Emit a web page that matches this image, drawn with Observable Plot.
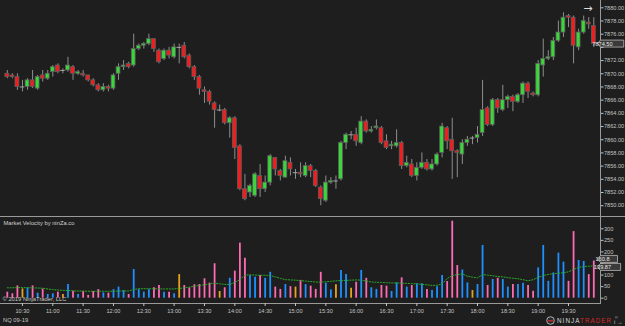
<!DOCTYPE html>
<html>
<head>
<meta charset="utf-8">
<script src="https://cdn.jsdelivr.net/npm/d3@7"></script>
<script src="https://cdn.jsdelivr.net/npm/@observablehq/plot@0.6"></script>
<style>
  html, body { margin: 0; padding: 0; background: #1e1e1e; }
  #chart { position: relative; width: 625px; height: 326px; background: #1e1e1e; overflow: hidden;
           font-family: Arial, "Liberation Sans", sans-serif; color: #c4c4c4; }
  #chart svg { position: absolute; left: 0; overflow: visible; }
  .rule { position: absolute; background: #9a9a9a; }
  .note { position: absolute; font-size: 5.8px; color: #c4c4c4; white-space: nowrap; }
  #logo { position: absolute; left: 546px; top: 316px; height: 9px; display: flex; align-items: center; gap: 2px;
          font-size: 6.3px; white-space: nowrap; }
  #logo .word { letter-spacing: 1.05px; }
  #logo .reg { color: #bdbdbd; font-size: 4.2px; line-height: 4.2px; align-self: flex-start; margin-left: 0.5px; }
</style>
</head>
<body>
<div id="chart"></div>
<script>
// NQ 09-19, 5-minute bars from 10:15 to 19:55
const open = [7870.00, 7869.75, 7869.50, 7868.00, 7868.00, 7869.00, 7867.75, 7869.75, 7869.25, 7870.25,
  7871.25, 7870.50, 7870.50, 7871.00, 7870.00, 7870.00, 7869.75, 7869.00, 7868.25, 7867.50,
  7868.00, 7867.75, 7870.00, 7871.00, 7871.50, 7871.25, 7873.75, 7874.25, 7874.50, 7875.25,
  7873.50, 7872.25, 7873.50, 7872.50, 7874.00, 7874.25, 7872.75, 7871.00, 7869.50, 7867.50,
  7867.25, 7865.50, 7864.50, 7864.50, 7862.50, 7863.25, 7859.00, 7852.50, 7852.00, 7851.50,
  7854.50, 7852.50, 7853.50, 7857.25, 7855.25, 7854.25, 7856.50, 7855.00, 7855.00, 7854.50,
  7856.00, 7855.25, 7852.75, 7850.75, 7853.50, 7853.75, 7854.00, 7859.50, 7860.75, 7860.75,
  7859.50, 7862.75, 7861.25, 7861.75, 7861.75, 7859.75, 7859.00, 7859.00, 7859.50, 7856.00,
  7856.25, 7854.50, 7855.75, 7856.50, 7855.50, 7856.25, 7858.00, 7861.75, 7860.00, 7858.25,
  7857.75, 7859.50, 7860.25, 7860.25, 7861.00, 7864.75, 7862.25, 7866.00, 7864.50, 7866.00,
  7866.50, 7865.75, 7866.75, 7868.50, 7867.00, 7866.75, 7871.25, 7872.25, 7872.50, 7875.00,
  7876.25, 7878.75, 7878.50, 7874.00, 7876.25, 7877.75, 7877.25];
const high = [7870.50, 7870.00, 7870.00, 7869.00, 7869.25, 7870.50, 7869.75, 7870.50, 7870.50, 7871.25,
  7871.50, 7870.75, 7872.50, 7871.25, 7870.50, 7870.50, 7869.75, 7869.25, 7868.50, 7868.50,
  7868.25, 7870.00, 7871.50, 7872.00, 7871.75, 7876.00, 7874.50, 7874.75, 7876.00, 7875.25,
  7873.75, 7873.75, 7874.00, 7874.50, 7874.50, 7874.75, 7873.00, 7871.25, 7869.75, 7868.00,
  7867.50, 7865.75, 7865.25, 7864.75, 7863.50, 7863.50, 7859.25, 7854.75, 7853.25, 7855.00,
  7856.25, 7854.50, 7857.75, 7857.25, 7855.50, 7857.50, 7857.25, 7855.50, 7856.50, 7856.50,
  7856.25, 7855.50, 7853.00, 7854.50, 7854.25, 7854.50, 7859.75, 7861.00, 7861.25, 7861.75,
  7863.50, 7863.00, 7862.00, 7863.00, 7862.00, 7860.75, 7859.75, 7861.50, 7859.75, 7857.50,
  7857.00, 7856.50, 7858.00, 7857.00, 7857.00, 7858.00, 7862.50, 7862.00, 7863.25, 7858.50,
  7860.00, 7860.50, 7860.50, 7862.00, 7869.00, 7865.00, 7866.25, 7866.25, 7868.25, 7866.75,
  7866.75, 7867.00, 7868.75, 7868.75, 7867.25, 7872.00, 7875.25, 7873.50, 7875.50, 7878.00,
  7879.25, 7879.00, 7878.75, 7876.75, 7878.75, 7878.50, 7878.50];
const low = [7869.25, 7869.25, 7867.50, 7867.25, 7867.50, 7867.75, 7867.50, 7868.75, 7869.00, 7869.50,
  7870.00, 7870.00, 7870.25, 7869.00, 7869.75, 7869.50, 7868.75, 7868.00, 7867.25, 7867.25,
  7867.25, 7867.50, 7869.00, 7870.50, 7870.75, 7871.00, 7873.50, 7873.75, 7874.25, 7873.25,
  7871.50, 7872.00, 7872.25, 7872.25, 7871.50, 7872.25, 7870.75, 7869.00, 7866.75, 7865.50,
  7865.25, 7861.75, 7864.25, 7862.25, 7860.25, 7857.00, 7852.25, 7850.75, 7851.25, 7851.25,
  7851.25, 7852.00, 7853.00, 7854.50, 7853.75, 7854.25, 7854.50, 7854.00, 7854.25, 7854.25,
  7854.25, 7852.75, 7850.00, 7850.50, 7853.25, 7852.50, 7853.75, 7858.50, 7860.00, 7859.00,
  7859.25, 7861.00, 7861.00, 7861.50, 7859.25, 7858.50, 7858.50, 7858.75, 7855.50, 7855.75,
  7854.25, 7853.75, 7855.50, 7855.25, 7855.25, 7856.00, 7857.25, 7858.50, 7854.00, 7854.25,
  7856.25, 7859.00, 7859.25, 7859.50, 7860.50, 7862.00, 7862.00, 7864.00, 7864.25, 7864.75,
  7864.25, 7865.50, 7865.50, 7866.25, 7866.50, 7866.50, 7869.50, 7872.00, 7872.00, 7874.75,
  7875.50, 7877.00, 7871.50, 7873.50, 7876.00, 7876.75, 7874.00];
const close = [7869.50, 7869.50, 7868.00, 7868.00, 7869.00, 7868.00, 7869.50, 7869.25, 7870.00, 7871.00,
  7870.25, 7870.50, 7871.25, 7870.00, 7870.25, 7869.75, 7869.00, 7868.25, 7867.50, 7868.00,
  7867.75, 7869.75, 7871.00, 7871.25, 7871.00, 7873.75, 7874.25, 7874.50, 7875.25, 7873.75,
  7871.75, 7873.50, 7872.75, 7874.00, 7874.00, 7872.50, 7871.00, 7869.50, 7867.75, 7867.25,
  7865.75, 7864.50, 7864.50, 7862.50, 7863.25, 7858.75, 7852.50, 7851.00, 7853.00, 7854.75,
  7852.50, 7853.50, 7857.50, 7855.50, 7854.50, 7856.75, 7855.50, 7855.00, 7854.75, 7856.00,
  7855.25, 7853.00, 7851.00, 7853.50, 7853.75, 7853.75, 7859.50, 7860.75, 7860.75, 7859.75,
  7862.75, 7861.25, 7861.50, 7862.00, 7859.50, 7858.75, 7859.25, 7859.50, 7856.00, 7856.50,
  7854.50, 7855.75, 7856.50, 7855.50, 7856.25, 7857.75, 7862.00, 7859.75, 7858.25, 7858.00,
  7859.50, 7860.00, 7860.25, 7860.75, 7864.50, 7862.25, 7866.00, 7864.75, 7866.00, 7866.50,
  7865.75, 7866.75, 7868.50, 7867.25, 7866.75, 7871.50, 7872.25, 7872.50, 7875.00, 7876.25,
  7878.50, 7878.50, 7874.25, 7876.25, 7878.00, 7877.50, 7874.50];

// Market Velocity indicator (per bar) and its moving average
const velocity = [26, 19, 53, 40, 45, 53, 22, 39, 16, 19,
  26, 16, 59, 30, 16, 29, 12, 29, 37, 23,
  22, 37, 48, 33, 16, 124, 37, 26, 37, 45,
  55, 26, 26, 19, 102, 55, 45, 58, 59, 84,
  65, 149, 29, 45, 86, 117, 238, 173, 98, 91,
  98, 86, 112, 48, 38, 59, 50, 48, 77, 59,
  52, 38, 112, 65, 36, 58, 120, 102, 43, 69,
  120, 86, 45, 38, 55, 52, 29, 66, 88, 48,
  55, 62, 62, 38, 33, 50, 98, 72, 333, 141,
  122, 66, 33, 59, 228, 55, 81, 86, 81, 48,
  59, 59, 65, 55, 30, 131, 228, 73, 109, 195,
  156, 73, 288, 163, 159, 102, 160.8];
const velocityAvg = [45, 45, 46, 46, 45, 45, 44, 43, 40, 37,
  35, 34, 33, 32, 31, 31, 30, 30, 30, 30,
  30, 30, 31, 31, 31, 38, 41, 41, 41, 41,
  40, 40, 40, 40, 42, 45, 48, 52, 55, 58,
  62, 65, 62, 60, 59, 68, 80, 100, 101, 100,
  99, 99, 98, 92, 86, 80, 79, 78, 76, 74,
  72, 70, 69, 71, 73, 75, 76, 77, 78, 79,
  78, 74, 70, 69, 68, 67, 66, 66, 65, 64,
  63, 62, 60, 58, 55, 56, 62, 85, 98, 102,
  105, 95, 91, 88, 102, 100, 97, 94, 92, 89,
  86, 84, 80, 75, 80, 90, 98, 103, 106, 108,
  110, 114, 124, 133, 137, 138, 139.87];

const timeTicks = ["10:30", "11:00", "11:30", "12:00", "12:30", "13:00", "13:30", "14:00", "14:30",
  "15:00", "15:30", "16:00", "16:30", "17:00", "17:30", "18:00", "18:30", "19:00", "19:30"];
const priceTicks = [7850, 7852, 7854, 7856, 7858, 7860, 7862, 7864, 7866, 7868, 7870, 7872, 7874, 7876, 7878, 7880];
const velocityTicks = [0, 50, 100, 150, 200, 250, 300];
const panelTitle = "Market Velocity by ninZa.co";
const copyright = "© 2019 NinjaTrader, LLC";
const instrument = "NQ 09-19";

// bar timestamps
const firstBar = 10 * 60 + 15;
const times = open.map((_, i) => {
  const m = firstBar + 5 * i;
  return `${Math.floor(m / 60)}:${String(m % 60).padStart(2, "0")}`;
});
const tickIndex = timeTicks.map(t => times.indexOf(t));

const bars = open.map((o, i) => ({
  i, time: times[i], open: o, high: high[i], low: low[i], close: close[i],
  velocity: velocity[i], avg: velocityAvg[i],
  dir: close[i] > o ? "up" : close[i] < o ? "down" : "flat"
}));
const dojis = bars.filter(d => d.dir === "flat");
const last = bars[bars.length - 1];

const font = "Arial, 'Liberation Sans', sans-serif";
const baseStyle = {background: "none", color: "#c4c4c4", fontFamily: font, fontSize: "5.6px", overflow: "visible"};
const xScale = {domain: [0, bars.length - 1], range: [6.8, 593.3]};

// tick labels that sit under a value tag are left blank
const hiddenUnder = (tags, span) => v => tags.some(t => Math.abs(v - t) < span);
const priceHidden = hiddenUnder([last.close], 0.8);
const velocityHidden = hiddenUnder([last.velocity, last.avg], 22);

const root = document.getElementById("chart");

// frame lines
function rule(left, top, width, height) {
  const d = document.createElement("div");
  d.className = "rule";
  Object.assign(d.style, {left: left + "px", top: top + "px", width: width + "px", height: height + "px"});
  root.appendChild(d);
}
rule(600, 0, 1, 303);
rule(0, 216, 625, 1);
rule(0, 303, 601, 1);

// price panel
const price = Plot.plot({
  width: 625, height: 216, marginTop: 0, marginBottom: 0, marginLeft: 0, marginRight: 25,
  style: baseStyle,
  x: {...xScale, axis: null},
  y: {domain: [7850, 7880], range: [205.2, 7.3], axis: null},
  color: {domain: ["up", "down", "flat"], range: ["#3ad63a", "#f41c1c", "#8c8c8c"]},
  marks: [
    Plot.axisY({anchor: "right", ticks: priceTicks, tickFormat: d => priceHidden(d) ? "" : d.toFixed(2), tickSize: 2.5, tickPadding: 1}),
    Plot.ruleX(bars, {x: "i", y1: "low", y2: "high", stroke: "#8e8e8e", strokeWidth: 1}),
    Plot.rect(bars.filter(d => d.dir !== "flat"), {
      x1: d => d.i - 0.38, x2: d => d.i + 0.38, y1: "open", y2: "close",
      fill: "dir", stroke: "#5e5e5e", strokeWidth: 0.8
    }),
    Plot.ruleY(dojis, {y: "open", x1: d => d.i - 0.45, x2: d => d.i + 0.45, stroke: "#a6a6a6", strokeWidth: 1}),
    Plot.text(["→"], {frameAnchor: "top-right", dx: -8, dy: 4, fill: "#dcdcdc", fontSize: 11, fontFamily: "DejaVu Sans"})
  ]
});
price.style.top = "0px";
root.appendChild(price);

// Market Velocity panel with the time axis
const vel = Plot.plot({
  width: 625, height: 109, marginTop: 0, marginBottom: 23, marginLeft: 0, marginRight: 25,
  style: baseStyle,
  x: {...xScale, axis: null},
  y: {domain: [0, 300], range: [80.7, 11.3], axis: null},
  color: {domain: ["up", "down", "flat"], range: ["#1e90ff", "#ff6ab4", "#e3a41c"]},
  marks: [
    Plot.axisY({anchor: "right", ticks: velocityTicks, tickFormat: d => velocityHidden(d) ? "" : String(d), tickSize: 2.5, tickPadding: 1}),
    Plot.axisX({anchor: "bottom", ticks: tickIndex, tickFormat: i => times[i], tickSize: 3, tickPadding: 2.5}),
    Plot.ruleX(bars, {x: "i", y1: 0, y2: "velocity", stroke: "dir", strokeWidth: 1.8}),
    Plot.line(bars, {x: "i", y: "avg", stroke: "#2aa82a", strokeWidth: 1, strokeDasharray: "1.2,1.6"}),
    Plot.text([panelTitle], {text: d => d, frameAnchor: "top-left", dx: 3, dy: 3, fill: "#d0d0d0", fontSize: 5.8}),
    Plot.text([copyright], {text: d => d, frameAnchor: "bottom-left", dx: 2, dy: -3, fill: "#c8c8c8", fontSize: 5.8})
  ]
});
vel.style.top = "217px";
root.appendChild(vel);

// value tags on the right axis
function valueTag(svg, y, label) {
  const g = d3.select(svg).append("g");
  const t = g.append("text").attr("x", 602.5).attr("y", y).attr("dy", "0.35em")
    .attr("fill", "#ececec").attr("font-size", 5.6).attr("font-family", font).text(label);
  const w = t.node().getComputedTextLength();
  g.insert("path", "text")
    .attr("d", `M597.5,${y} L600.5,${y - 3.5} L${603.5 + w},${y - 3.5} L${603.5 + w},${y + 3.5} L600.5,${y + 3.5} Z`)
    .attr("fill", "#3a3a3a").attr("stroke", "#b8b8b8").attr("stroke-width", 0.8);
}
valueTag(price, price.scale("y").apply(last.close), last.close.toFixed(2));

let yv = vel.scale("y").apply(last.velocity);
let ya = vel.scale("y").apply(last.avg);
if (Math.abs(ya - yv) < 8) {
  const mid = (ya + yv) / 2, s = ya > yv ? 1 : -1;
  yv = mid - 4 * s; ya = mid + 4 * s;
}
valueTag(vel, yv, String(last.velocity));
valueTag(vel, ya, String(last.avg));

// footer: instrument and logo
const nq = document.createElement("div");
nq.className = "note";
Object.assign(nq.style, {left: "3px", top: "317px"});
nq.textContent = instrument;
root.appendChild(nq);

const logo = document.createElement("div");
logo.id = "logo";
logo.innerHTML = `<svg width="9" height="9" viewBox="0 0 9 9" style="position:static">
  <circle cx="4.5" cy="4.5" r="3.8" fill="#2a2a2a" stroke="#bdbdbd" stroke-width="0.9"/>
  <path d="M1.6,4.2 L7.4,4.2 L7.4,5.4 L1.6,5.4 Z" fill="#d42a2a"/></svg>
  <span class="word"><span style="color:#d8d8d8">NINJA</span><span style="color:#d42a2a">TRADER</span></span><span class="reg">®</span>`;
root.appendChild(logo);
</script>
</body>
</html>
